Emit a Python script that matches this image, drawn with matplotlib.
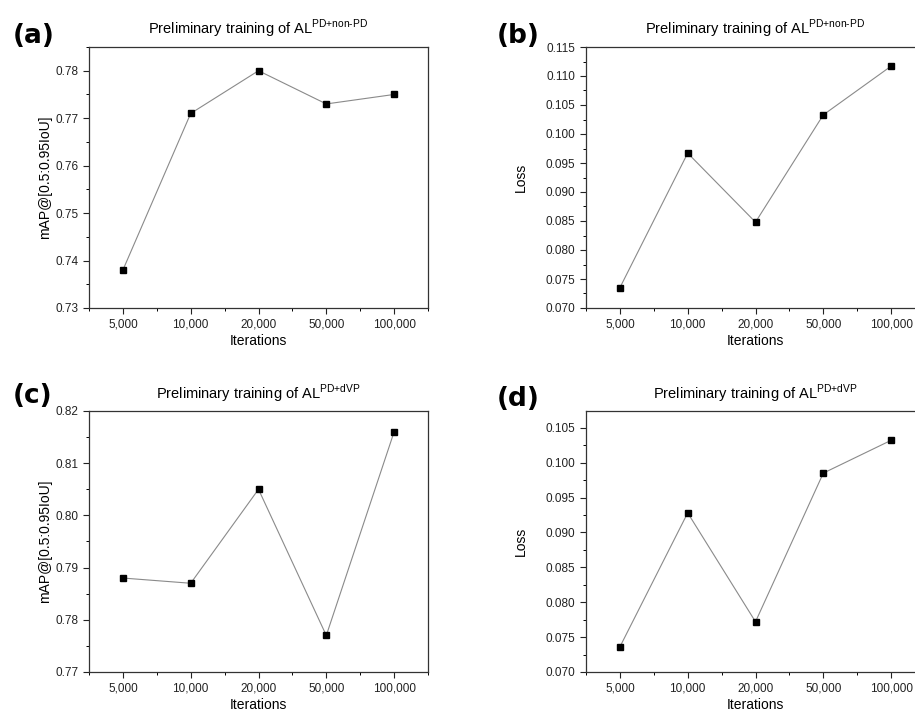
#!/usr/bin/env python3
"""Preliminary training of AL models: mAP and loss versus iterations (four panels)."""

import matplotlib
matplotlib.use("Agg")
import matplotlib.pyplot as plt
from matplotlib.ticker import FixedLocator, FormatStrFormatter, MultipleLocator

plt.rcParams["font.family"] = ["Liberation Sans", "DejaVu Sans"]
plt.rcParams["mathtext.fontset"] = "custom"
plt.rcParams["mathtext.rm"] = "Liberation Sans"

# ---------------------------------------------------------------------------
# Data
# ---------------------------------------------------------------------------

iterations = ["5,000", "10,000", "20,000", "50,000", "100,000"]

map_non_pd = [0.738, 0.771, 0.780, 0.773, 0.775]
loss_non_pd = [0.0735, 0.0967, 0.0848, 0.1033, 0.1117]
map_dvp = [0.788, 0.787, 0.805, 0.777, 0.816]
loss_dvp = [0.0736, 0.0928, 0.0772, 0.0985, 0.1032]

title_non_pd = r"Preliminary training of AL$^{\text{PD+non-PD}}$"
title_dvp = r"Preliminary training of AL$^{\text{PD+dVP}}$"

# ---------------------------------------------------------------------------
# Plotting
# ---------------------------------------------------------------------------

W, H = 915, 711
fig = plt.figure(figsize=(W / 100, H / 100), dpi=100)


def px_axes(left, top, right, bottom):
    return fig.add_axes([left / W, 1 - bottom / H, (right - left) / W, (bottom - top) / H])


panels = [
    # (rect in px, values, ylabel, ylabel right edge px, ylim, major step, fmt, title, tag, tag pos)
    ((89, 47, 428, 308), map_non_pd, "mAP@[0.5:0.95IoU]", 52, (0.73, 0.785), 0.01, "%.2f",
     title_non_pd, "(a)", (13, 36)),
    ((586, 47, 925, 308), loss_non_pd, "Loss", 528, (0.070, 0.115), 0.005, "%.3f",
     title_non_pd, "(b)", (497, 36)),
    ((89, 411, 428, 672), map_dvp, "mAP@[0.5:0.95IoU]", 52, (0.77, 0.82), 0.01, "%.2f",
     title_dvp, "(c)", (13, 396)),
    ((586, 411, 925, 672), loss_dvp, "Loss", 528, (0.070, 0.1074), 0.005, "%.3f",
     title_dvp, "(d)", (497, 399)),
]

for rect, vals, ylabel, ylab_x, ylim, step, fmt, title, tag, tagpos in panels:
    ax = px_axes(*rect)
    x = list(range(len(iterations)))
    ax.plot(x, vals, color="#8a8a8a", lw=0.8, marker="s", markersize=5,
            markerfacecolor="black", markeredgecolor="black", zorder=3)

    ax.set_xlim(-0.5, len(iterations) - 0.5)
    ax.set_ylim(*ylim)
    ax.set_xticks(x)
    ax.set_xticklabels(iterations)
    ax.xaxis.set_minor_locator(FixedLocator([i + 0.5 for i in range(-1, len(iterations))]))
    ax.yaxis.set_major_locator(MultipleLocator(step))
    ax.yaxis.set_minor_locator(MultipleLocator(step / 2))
    ax.yaxis.set_major_formatter(FormatStrFormatter(fmt))

    ax.tick_params(which="major", direction="out", length=4, width=0.8,
                   labelsize=8.5, colors="#222222", top=False, right=False)
    ax.tick_params(which="minor", direction="out", length=2.5, width=0.7,
                   top=False, right=False)
    for sp in ax.spines.values():
        sp.set_linewidth(0.9)
        sp.set_color("#333333")

    ax.set_xlabel("Iterations", fontsize=10, labelpad=2.5)
    ax.set_ylabel(ylabel, fontsize=10)
    ax.yaxis.set_label_coords((ylab_x - rect[0]) / (rect[2] - rect[0]), 0.5)
    ax.set_title(title, fontsize=10.5, pad=9)

    fig.text(tagpos[0] / W, 1 - tagpos[1] / H, tag, fontsize=19, fontweight="bold",
             ha="left", va="center", family=["DejaVu Sans"])

fig.savefig("out.png", dpi=100)
